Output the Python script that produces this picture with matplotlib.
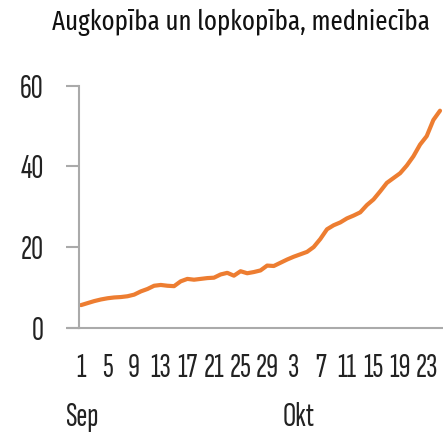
import matplotlib
matplotlib.use("Agg")
import matplotlib.pyplot as plt

title = "Augkopība un lopkopība, medniecība"
values = [5.6, 6.1, 6.6, 7.0, 7.3, 7.5, 7.6, 7.8, 8.2, 9.0,
          9.6, 10.4, 10.6, 10.4, 10.3, 11.5, 12.1, 11.9, 12.1, 12.3,
          12.4, 13.2, 13.6, 12.9, 14.0, 13.5, 13.8, 14.2, 15.4, 15.3,
          16.1, 16.9, 17.6, 18.2, 18.8, 20.0, 22.0, 24.4, 25.4, 26.1,
          27.1, 27.8, 28.6, 30.4, 31.8, 33.8, 35.9, 37.1, 38.3, 40.2,
          42.5, 45.4, 47.5, 51.5, 53.8]
day_labels = ["1", "5", "9", "13", "17", "21", "25", "29", "3", "7", "11", "15", "19", "23"]
month_labels = ["Sep", "Okt"]
month_pos = [0, 32]
yticks = [0, 20, 40, 60]

FONT = 'Sofia Sans Extra Condensed'
TITLE_FONT = 'Fira Sans Extra Condensed'
plt.rcParams['font.family'] = [FONT, 'DejaVu Sans']

W, H = 443, 436
fig = plt.figure(figsize=(W / 100, H / 100), dpi=100)
ax = fig.add_axes([79 / W, 1 - 327.7 / H, (443 - 79) / W, (327.7 - 85.7) / H])

x = list(range(len(values)))
ax.plot(x, values, color="#ED7D31", lw=3.0, solid_capstyle="round", solid_joinstyle="round")
ax.set_xlim(-0.3, 54.45)
ax.set_ylim(0, 60)

for s in ["top", "right"]:
    ax.spines[s].set_visible(False)
for s in ["left", "bottom"]:
    ax.spines[s].set_color("#AAAAAA")
    ax.spines[s].set_linewidth(1.5)

tick_font = dict(size=24, weight="light")
ax.set_yticks(yticks)
ax.set_yticklabels([str(v) for v in yticks], fontdict=tick_font)
ax.tick_params(axis="y", length=9.4, width=1.5, color="#AAAAAA", pad=16,
               labelcolor="#222222")
ax.set_xticks(list(range(0, 55, 4)))
ax.set_xticklabels(day_labels, fontdict=tick_font)
ax.tick_params(axis="x", length=0, pad=18, labelcolor="#222222")

# extend baseline left like the 0 tick
ax.plot([-2.0, -0.3], [0, 0], color="#AAAAAA", lw=1.5, clip_on=False)

month_dx = [1, 5]
for lab, p, dx in zip(month_labels, month_pos, month_dx):
    ax.annotate(lab, xy=(p, 0), xycoords="data", xytext=(dx, -98.5),
                textcoords="offset pixels", ha="center", va="baseline",
                fontsize=24, fontweight="light", color="#222222",
                annotation_clip=False)

fig.text(240.5 / W, 1 - 30 / H, title, ha="center", va="baseline",
         fontsize=19.4, color="#111111", family=[TITLE_FONT, 'DejaVu Sans'])

fig.savefig("out.png", dpi=100)
